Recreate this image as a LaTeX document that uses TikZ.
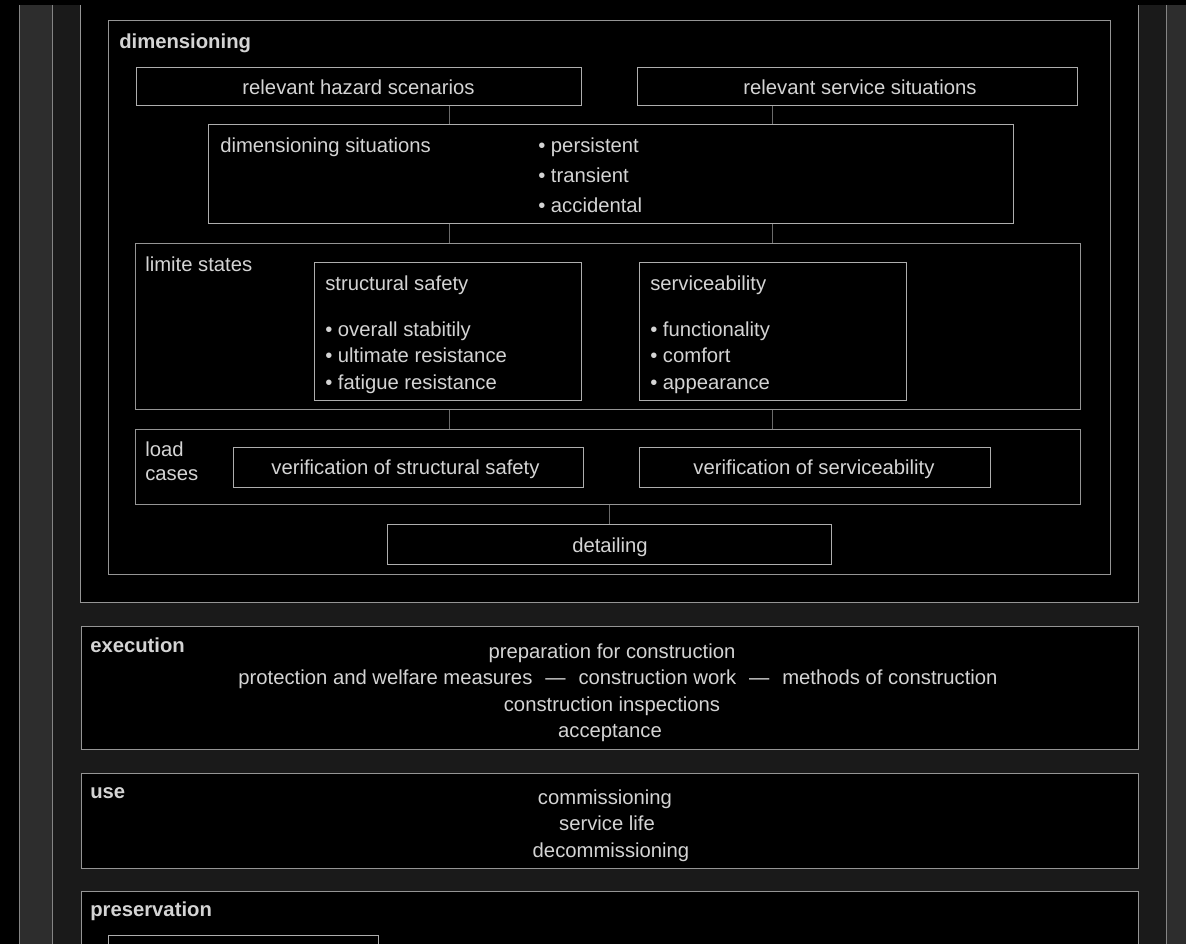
\documentclass[tikz,border=0pt]{standalone}
\usepackage{fontspec}
\setmainfont{Liberation Sans}
\usetikzlibrary{fit}
\definecolor{bandL}{HTML}{2D2D2D}
\definecolor{bandD}{HTML}{1A1A1A}
\definecolor{edgeB}{HTML}{858585}
\definecolor{edgeO}{HTML}{959595}
\definecolor{edgeI}{HTML}{AEAEAE}
\definecolor{conn}{HTML}{6A6A6A}
\definecolor{txt}{HTML}{D4D4D4}
\begin{document}
\begin{tikzpicture}[x=0.75pt,y=-0.75pt,
 every node/.style={font=\fontsize{15.2}{20}\selectfont, text=txt, inner sep=0pt},
 obox/.style={draw=edgeO, line width=0.75pt, fill=black},
 ibox/.style={draw=edgeI, line width=0.75pt, fill=black},
 link/.style={draw=conn, line width=0.75pt},
 lbl/.style={anchor=base west, yshift=-1.1pt},
 ctr/.style={anchor=base, yshift=-1.1pt},
 head/.style={anchor=base west, yshift=-1.1pt, font=\fontsize{15.2}{20}\selectfont\bfseries}]
\useasboundingbox (0,0) rectangle (1186,944);
\clip (0,0) rectangle (1186,944);
% background bands
\fill[black] (0,0) rectangle (1186,944);
\fill[bandL] (19,5) rectangle (52,960);
\fill[bandD] (52,5) rectangle (1166,960);
\fill[bandL] (1166,5) rectangle (1186,960);
\draw[edgeB, line width=0.75pt] (19,5) -- (19,960) (52,5) -- (52,960) (1166,5) -- (1166,960);
% outer top panel
\fill[black] (80,-5) rectangle (1138,603);
\draw[edgeO, line width=0.75pt] (80,5) -- (80,603) -- (1138,603) -- (1138,5);
\coordinate (cL) at (449,0);
\coordinate (cR) at (772,0);
% dimensioning
\node[obox, fit={(108,21) (1110,575)}] (dim) {};
\node[head] (dimT) at (119,47) {dimensioning};
\node[ibox, fit={(136,68) (581,106)}] (haz) {};
\node[ctr] (hazT) at (358.5,93) {relevant hazard scenarios};
\node[ibox, fit={(637,68) (1077,106)}] (serv) {};
\node[ctr] (servT) at (860,93) {relevant service situations};
\node[ibox, fit={(208,125) (1013,224)}] (dsit) {};
\node[lbl] (dsitT) at (220,151) {dimensioning situations};
\node[lbl] (dsit1) at (538,151) {• persistent};
\node[lbl] (dsit2) at (538,181) {• transient};
\node[lbl] (dsit3) at (538,211) {• accidental};
\node[obox, fit={(135,244) (1080,410)}] (lim) {};
\node[lbl] (limT) at (145,270) {limite states};
\node[ibox, fit={(314,263) (581,401)}] (safe) {};
\node[lbl] (safeT) at (325,289) {structural safety};
\node[lbl] (safe1) at (325,335) {• overall stabitily};
\node[lbl] (safe2) at (325,361.5) {• ultimate resistance};
\node[lbl] (safe3) at (325,388) {• fatigue resistance};
\node[ibox, fit={(639,263) (906,401)}] (svc) {};
\node[lbl] (svcT) at (650,289) {serviceability};
\node[lbl] (svc1) at (650,335) {• functionality};
\node[lbl] (svc2) at (650,361.5) {• comfort};
\node[lbl] (svc3) at (650,388) {• appearance};
\node[obox, fit={(135,430) (1080,505)}] (load) {};
\node[lbl] (loadT1) at (145,455) {load};
\node[lbl] (loadT2) at (145,479) {cases};
\node[ibox, fit={(233,448) (583,488)}] (vsafe) {};
\node[ctr] (vsafeT) at (405.5,473) {verification of structural safety};
\node[ibox, fit={(639,448) (990,488)}] (vsvc) {};
\node[ctr] (vsvcT) at (814,473) {verification of serviceability};
\node[ibox, fit={(387,525) (831,565)}] (det) {};
\node[ctr] (detT) at (610,551) {detailing};
% connectors
\draw[link] (haz.south -| cL) -- (dsit.north -| cL);
\draw[link] (serv.south -| cR) -- (dsit.north -| cR);
\draw[link] (dsit.south -| cL) -- (lim.north -| cL);
\draw[link] (dsit.south -| cR) -- (lim.north -| cR);
\draw[link] (lim.south -| cL) -- (load.north -| cL);
\draw[link] (lim.south -| cR) -- (load.north -| cR);
\draw[link] (load.south -| det.north) -- (det.north);
% execution
\node[obox, fit={(81,627) (1138,749)}] (exe) {};
\node[head] (exeT) at (90,651) {execution};
\node[ctr] (exe1) at (612,657) {preparation for construction};
\node[ctr] (exe2) at (618,683.5) {protection and welfare measures\hspace{9.7pt}—\hspace{9.7pt}construction work\hspace{9.7pt}—\hspace{9.7pt}methods of construction};
\node[ctr] (exe3) at (612,710) {construction inspections};
\node[ctr] (exe4) at (610,736.5) {acceptance};
% use
\node[obox, fit={(81,773) (1138,868)}] (use) {};
\node[head] (useT) at (90,797) {use};
\node[ctr] (use1) at (605,803) {commissioning};
\node[ctr] (use2) at (607,829.5) {service life};
\node[ctr] (use3) at (611,856) {decommissioning};
% preservation
\node[obox, fit={(81,891) (1138,980)}] (pres) {};
\node[head] (presT) at (90,915) {preservation};
\node[ibox, fit={(108,935) (378,990)}] (pres1) {};
\end{tikzpicture}
\end{document}
